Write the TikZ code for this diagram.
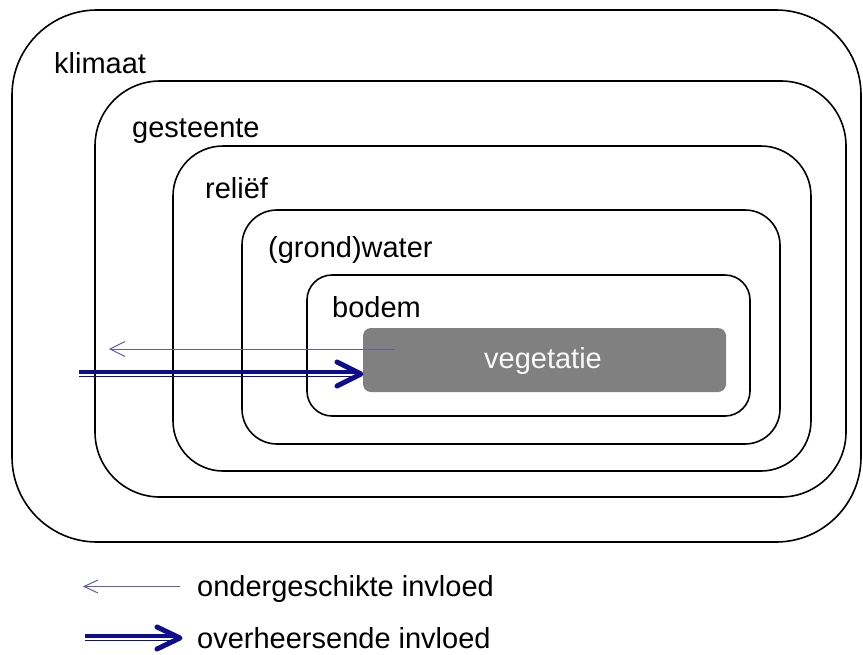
\documentclass[tikz,border=0pt]{standalone}
\usepackage{fontspec}
\setmainfont{Liberation Sans}
\usetikzlibrary{arrows.meta}
\definecolor{navy}{RGB}{14,14,140}
\definecolor{thinblue}{RGB}{95,95,165}
\definecolor{veggray}{RGB}{128,128,128}
\tikzset{
  layer/.style={draw=black, line width=1.6pt},
  lab/.style={anchor=base west, inner sep=0pt, font=\fontsize{29}{33}\selectfont},
  thinarrow/.style={draw=thinblue, line width=1pt},
  thickband/.style={draw=navy, line width=3.6pt},
  thinband/.style={draw=navy, line width=1.3pt},
  chevron/.style={draw=navy, line width=5pt, line cap=round, line join=round},
}
\begin{document}
\begin{tikzpicture}[x=1pt,y=-1pt]
\useasboundingbox (0,0) rectangle (863,654);
% layers
\draw[layer, rounded corners=85pt] (12,10) rectangle (861,542);
\draw[layer, rounded corners=65pt] (95,81) rectangle (846,497);
\draw[layer, rounded corners=50pt] (173,146) rectangle (811,471);
\draw[layer, rounded corners=35pt] (242,210) rectangle (780,444);
\draw[layer, rounded corners=25pt] (307,275) rectangle (750,416);
\node[fill=veggray, rounded corners=8pt, minimum width=363pt, minimum height=64pt, inner sep=0pt] (veg) at (544.5,360) {};
% labels
\node[lab] (klimaat) at (54,73) {klimaat};
\node[lab] (gesteente) at (132,137) {gesteente};
\node[lab] (relief) at (205,198) {reliëf};
\node[lab] (water) at (268,257) {(grond)water};
\node[lab] (bodem) at (332,317) {bodem};
\node[anchor=base, inner sep=0pt, font=\fontsize{29}{33}\selectfont, text=white!96!gray] (vegtxt) at (543,368) {vegetatie};
% thin arrow (ondergeschikte invloed)
\coordinate (ts) at (395,349);
\coordinate (te) at (110,349);
\draw[thinarrow] (ts) -- (te);
\draw[thinarrow] ([shift={(15,-7.5)}]te) -- (te) -- ([shift={(15,7.5)}]te);
% thick arrow (overheersende invloed)
\coordinate (hs) at (79,374);
\coordinate (he) at (361,374);
\draw[thickband] ([shift={(0,-1.8)}]hs) -- ([shift={(-4,-1.8)}]he);
\draw[thinband] ([shift={(0,2.4)}]hs) -- ([shift={(-4,2.4)}]he);
\draw[chevron] ([shift={(-24,-12)}]he) -- (he) -- ([shift={(-24,12)}]he);
% legend
\coordinate (l1s) at (180,586.5);
\coordinate (l1e) at (84,586.5);
\draw[thinarrow] (l1s) -- (l1e);
\draw[thinarrow] ([shift={(14,-6.5)}]l1e) -- (l1e) -- ([shift={(14,6.5)}]l1e);
\node[lab] (leg1) at (197,596) {ondergeschikte invloed};
\coordinate (l2s) at (85,638);
\coordinate (l2e) at (180,638);
\draw[thickband] ([shift={(0,-1.8)}]l2s) -- ([shift={(-4,-1.8)}]l2e);
\draw[thinband] ([shift={(0,2.4)}]l2s) -- ([shift={(-4,2.4)}]l2e);
\draw[chevron] ([shift={(-23,-11)}]l2e) -- (l2e) -- ([shift={(-23,11)}]l2e);
\node[lab] (leg2) at (197,648) {overheersende invloed};
\end{tikzpicture}
\end{document}
